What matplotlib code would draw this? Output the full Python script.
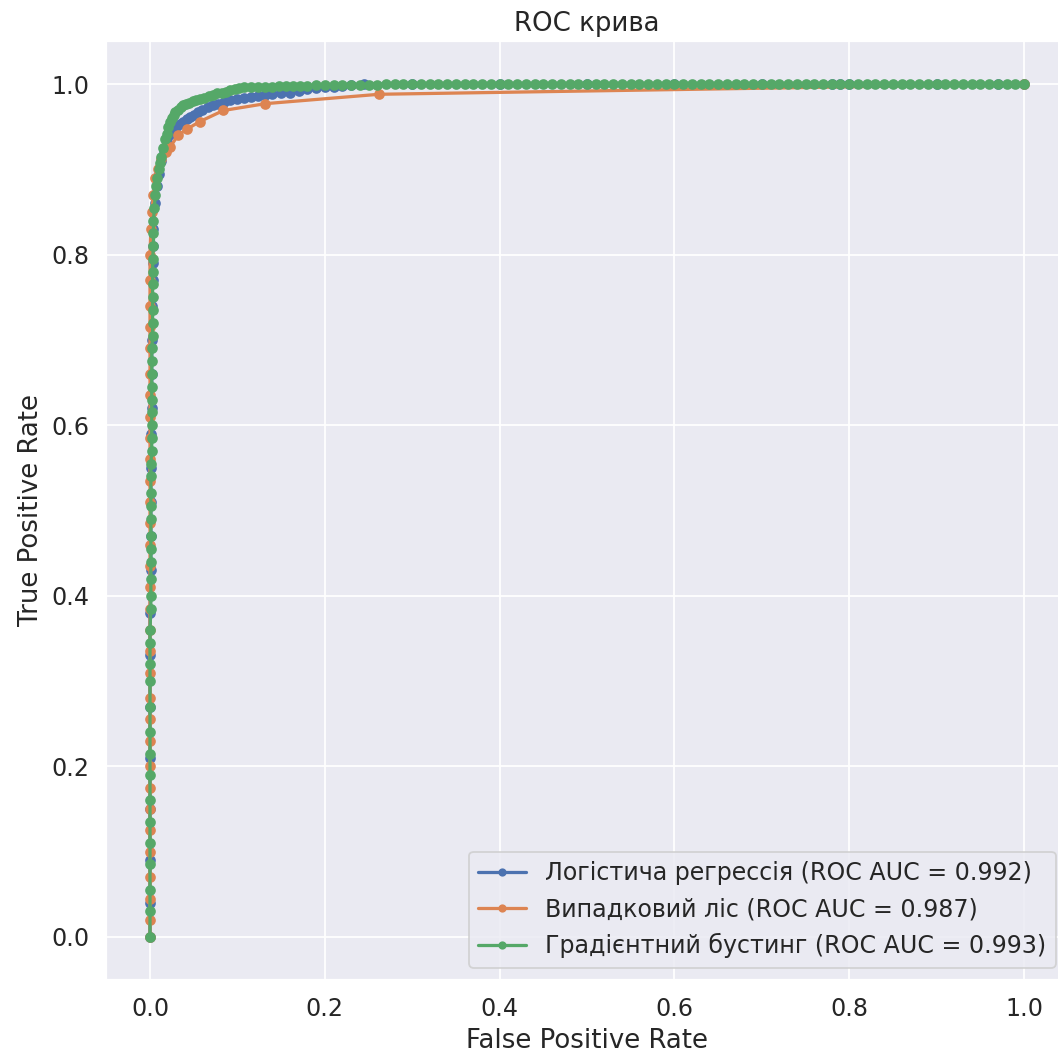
import matplotlib
matplotlib.use('Agg')
import matplotlib.pyplot as plt
import seaborn as sns

sns.set_theme(font_scale=1.2)  # darkgrid, deep palette, bigger text
plt.rcParams['lines.linewidth'] = 1.8
plt.rcParams['lines.markersize'] = 9
plt.rcParams['lines.markeredgewidth'] = 1.4

# ROC points
lr_fpr = [0.000, 0.000, 0.000, 0.000, 0.000, 0.000, 0.000, 0.000, 0.001, 0.001,
          0.001, 0.001, 0.001, 0.002, 0.002, 0.002, 0.002, 0.003, 0.003, 0.003,
          0.004, 0.006, 0.008, 0.010, 0.013, 0.016, 0.019, 0.022, 0.026, 0.030,
          0.034, 0.038, 0.042, 0.046, 0.050, 0.055, 0.060, 0.066, 0.072, 0.078,
          0.085, 0.092, 0.100, 0.108, 0.116, 0.124, 0.132, 0.140, 0.150, 0.160,
          0.170, 0.180, 0.190, 0.200, 0.210, 0.220, 0.230, 0.245, 0.300, 0.400,
          0.500, 0.600, 0.700, 0.780, 0.790, 0.800, 0.900, 0.970, 1.000]
lr_tpr = [0.000, 0.040, 0.090, 0.150, 0.210, 0.270, 0.330, 0.380, 0.430, 0.470,
          0.510, 0.550, 0.590, 0.620, 0.660, 0.700, 0.740, 0.770, 0.790, 0.810,
          0.830, 0.860, 0.880, 0.895, 0.910, 0.922, 0.932, 0.940, 0.946, 0.950,
          0.953, 0.956, 0.959, 0.961, 0.964, 0.967, 0.970, 0.973, 0.975, 0.977,
          0.979, 0.981, 0.983, 0.984, 0.985, 0.986, 0.987, 0.988, 0.989, 0.990,
          0.992, 0.994, 0.995, 0.996, 0.997, 0.998, 0.999, 1.000, 1.000, 1.000,
          1.000, 1.000, 1.000, 1.000, 1.000, 1.000, 1.000, 1.000, 1.000]

rf_fpr = [0.000, 0.000, 0.000, 0.000, 0.000, 0.000, 0.000, 0.000, 0.000, 0.000,
          0.000, 0.000, 0.000, 0.000, 0.000, 0.000, 0.000, 0.000, 0.000, 0.000,
          0.000, 0.000, 0.000, 0.000, 0.000, 0.000, 0.000, 0.000, 0.000, 0.000,
          0.000, 0.000, 0.001, 0.002, 0.004, 0.006, 0.009, 0.013, 0.018, 0.023,
          0.032, 0.042, 0.057, 0.084, 0.132, 0.262, 1.000]
rf_tpr = [0.000, 0.020, 0.045, 0.070, 0.100, 0.125, 0.150, 0.175, 0.200, 0.230,
          0.255, 0.280, 0.310, 0.335, 0.360, 0.385, 0.410, 0.435, 0.460, 0.485,
          0.510, 0.535, 0.560, 0.585, 0.610, 0.635, 0.660, 0.690, 0.715, 0.740,
          0.770, 0.800, 0.830, 0.850, 0.870, 0.890, 0.900, 0.912, 0.920, 0.926,
          0.940, 0.947, 0.956, 0.969, 0.977, 0.988, 1.000]

gb_fpr = [0.000, 0.000, 0.000, 0.000, 0.000, 0.000, 0.000, 0.000, 0.000, 0.000,
          0.000, 0.000, 0.000, 0.000, 0.000, 0.001, 0.001, 0.001, 0.001, 0.001,
          0.001, 0.001, 0.001, 0.001, 0.001, 0.001, 0.002, 0.002, 0.002, 0.002,
          0.002, 0.002, 0.002, 0.002, 0.002, 0.003, 0.003, 0.003, 0.003, 0.003,
          0.003, 0.003, 0.004, 0.004, 0.004, 0.005, 0.006, 0.007, 0.008, 0.010,
          0.011, 0.013, 0.015, 0.017, 0.019, 0.021, 0.023, 0.025, 0.027, 0.029,
          0.032, 0.035, 0.038, 0.041, 0.045, 0.049, 0.053, 0.057, 0.062, 0.067,
          0.072, 0.077, 0.082, 0.087, 0.092, 0.097, 0.102, 0.108, 0.116, 0.124,
          0.132, 0.140, 0.148, 0.156, 0.164, 0.172, 0.180, 0.190, 0.200, 0.210,
          0.220, 0.230, 0.240, 0.250, 0.260, 0.270, 0.280, 0.290, 0.300, 0.310,
          0.320, 0.330, 0.340, 0.350, 0.360, 0.370, 0.380, 0.390, 0.400, 0.410,
          0.420, 0.430, 0.440, 0.450, 0.460, 0.470, 0.480, 0.490, 0.500, 0.510,
          0.520, 0.530, 0.540, 0.550, 0.560, 0.570, 0.580, 0.590, 0.600, 0.610,
          0.620, 0.630, 0.640, 0.650, 0.660, 0.670, 0.680, 0.690, 0.700, 0.710,
          0.720, 0.730, 0.740, 0.750, 0.760, 0.770, 0.780, 0.790, 0.800, 0.810,
          0.820, 0.830, 0.840, 0.850, 0.860, 0.870, 0.880, 0.890, 0.900, 0.910,
          0.920, 0.930, 0.940, 0.950, 0.960, 0.970, 0.980, 0.990, 1.000]
gb_tpr = [0.000, 0.030, 0.055, 0.085, 0.110, 0.135, 0.160, 0.190, 0.215, 0.240,
          0.270, 0.300, 0.320, 0.345, 0.360, 0.385, 0.400, 0.420, 0.440, 0.455,
          0.470, 0.490, 0.505, 0.520, 0.540, 0.555, 0.570, 0.585, 0.600, 0.615,
          0.630, 0.645, 0.660, 0.675, 0.690, 0.705, 0.720, 0.735, 0.750, 0.765,
          0.780, 0.795, 0.810, 0.825, 0.840, 0.855, 0.870, 0.880, 0.890, 0.900,
          0.908, 0.915, 0.925, 0.935, 0.942, 0.950, 0.955, 0.960, 0.964, 0.967,
          0.970, 0.973, 0.976, 0.977, 0.978, 0.980, 0.981, 0.983, 0.984, 0.986,
          0.987, 0.989, 0.990, 0.991, 0.993, 0.994, 0.995, 0.996, 0.996, 0.997,
          0.997, 0.997, 0.998, 0.998, 0.998, 0.998, 0.998, 0.999, 0.999, 0.999,
          0.999, 0.999, 0.999, 0.999, 0.999, 1.000, 1.000, 1.000, 1.000, 1.000,
          1.000, 1.000, 1.000, 1.000, 1.000, 1.000, 1.000, 1.000, 1.000, 1.000,
          1.000, 1.000, 1.000, 1.000, 1.000, 1.000, 1.000, 1.000, 1.000, 1.000,
          1.000, 1.000, 1.000, 1.000, 1.000, 1.000, 1.000, 1.000, 1.000, 1.000,
          1.000, 1.000, 1.000, 1.000, 1.000, 1.000, 1.000, 1.000, 1.000, 1.000,
          1.000, 1.000, 1.000, 1.000, 1.000, 1.000, 1.000, 1.000, 1.000, 1.000,
          1.000, 1.000, 1.000, 1.000, 1.000, 1.000, 1.000, 1.000, 1.000, 1.000,
          1.000, 1.000, 1.000, 1.000, 1.000, 1.000, 1.000, 1.000, 1.000]

labels = ['Логістича регрессія (ROC AUC = 0.992)',
          'Випадковий ліс (ROC AUC = 0.987)',
          'Градієнтний бустинг (ROC AUC = 0.993)']

dpi = 130
fig = plt.figure(figsize=(1058 / dpi, 1057 / dpi), dpi=dpi)
# axes run a bit past the right edge, as in the cropped original
ax = fig.add_axes([106.3 / 1058, (1057 - 979.6) / 1057, 961.4 / 1058, 938.2 / 1057])

ax.plot(lr_fpr, lr_tpr, marker='.', label=labels[0])
ax.plot(rf_fpr, rf_tpr, marker='.', label=labels[1])
ax.plot(gb_fpr, gb_tpr, marker='.', label=labels[2])

ax.set_title('ROC крива')
ax.set_xlabel('False Positive Rate')
ax.set_ylabel('True Positive Rate')
ax.legend(loc='lower right', markerscale=0.7)

fig.savefig('out.png', dpi=dpi)
